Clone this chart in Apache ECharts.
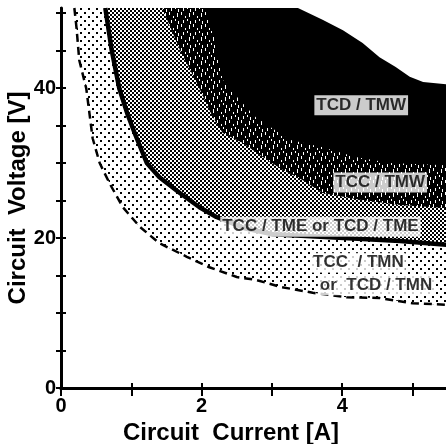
<!DOCTYPE html>
<html>
<head>
<meta charset="utf-8">
<script src="https://cdn.jsdelivr.net/npm/echarts@6/dist/echarts.min.js"></script>
<style>
  html, body { margin: 0; padding: 0; background: #fff; }
  #chart { width: 446px; height: 444px; }
</style>
</head>
<body>
<div id="chart"></div>
<script>
// Boundaries of the operating regions: circuit current [A] against circuit voltage [V].
// Lower edge of the TMN region (dashed curve)
const tmnEdgeI = [0.19, 0.22, 0.26, 0.36, 0.45, 0.55, 0.69, 0.88, 1.12, 1.40, 1.79, 2.11, 2.50, 2.78, 3.11, 3.58, 4.06, 4.53, 5.00, 5.49];
const tmnEdgeV = [50.67, 48.1, 43.7, 39.9, 33.3, 30.0, 27.3, 24.1, 21.5, 19.3, 17.5, 16.1, 14.8, 14.4, 13.5, 12.7, 12.1, 12.0, 11.3, 11.1];
// TMN / TME boundary (thick solid curve)
const tmeEdgeI = [0.63, 0.72, 0.83, 0.95, 1.06, 1.22, 1.40, 1.69, 1.97, 2.21, 2.61, 3.01, 3.82, 4.82, 5.49];
const tmeEdgeV = [50.67, 45.1, 39.9, 36.4, 33.7, 30.0, 28.1, 26.0, 24.1, 22.8, 21.3, 20.5, 20.1, 19.6, 19.1];
// TME / TCC-TMW boundary
const tccTmwEdgeI = [1.44, 1.69, 1.93, 2.16, 2.30, 2.58, 2.87, 3.15, 3.44, 3.72, 4.25, 4.82, 5.49];
const tccTmwEdgeV = [50.67, 45.1, 40.7, 36.1, 34.0, 32.7, 30.8, 29.1, 27.7, 26.0, 25.1, 24.4, 24.0];
// TCC-TMW / TCD-TMW boundary
const tcdTmwEdgeI = [2.04, 2.19, 2.30, 2.54, 2.77, 3.25, 3.72, 4.19, 4.68, 5.49];
const tcdTmwEdgeV = [50.67, 46.4, 41.1, 38.4, 36.1, 33.1, 32.1, 30.8, 30.0, 29.7];
// Upper edge of the TCD / TMW region
const tcdTmwTopI = [3.37, 3.72, 4.01, 4.29, 4.53, 4.76, 4.96, 5.15, 5.49];
const tcdTmwTopV = [50.67, 49.1, 47.7, 46.0, 44.1, 42.8, 41.5, 40.8, 40.5];

const regionNames = ['TCD / TMW', 'TCC / TMW', 'TCC / TME or TCD / TME', 'TCC  / TMN', 'or  TCD / TMN'];
const xTickValues = [0, 1, 2, 3, 4, 5];
const xTickLabels = [0, 2, 4];
const yTickValues = [0, 5, 10, 15, 20, 25, 30, 35, 40, 45, 50];
const yTickLabels = [0, 20, 40];

const xMin = 0, xMax = 5.49, yMin = 0, yMax = 50.67;
const FONT = 'Liberation Sans';

// Small repeating bitmaps used as fills
function tile(w, h, bg, fg, cells) {
  const c = document.createElement('canvas');
  c.width = w; c.height = h;
  const g = c.getContext('2d');
  g.fillStyle = bg; g.fillRect(0, 0, w, h);
  g.fillStyle = fg;
  cells.forEach(([x, y, cw, ch]) => g.fillRect(x, y, cw, ch));
  return { image: c, repeat: 'repeat' };
}
// sparse dots
const dotFill = tile(8, 8, '#fff', '#000', [[0, 0, 2, 2], [4, 4, 2, 2]]);
// halftone grey
const checkerFill = tile(4, 4, '#fff', '#000', [[0, 0, 2, 2], [2, 2, 2, 2]]);
// black with light streaks
const speckFill = tile(12, 12, '#000', '#fff', [
  [1, 0, 1, 3], [5, 4, 1, 2], [9, 1, 1, 4], [3, 8, 1, 3], [7, 7, 1, 2], [10, 9, 1, 3]
]);

const pairs = (I, V) => I.map((x, i) => [x, V[i]]);
// area under a boundary, closed along the top edge on the left
const region = (I, V) => [[xMin, yMax]].concat(pairs(I, V));

function areaSeries(I, V, fill) {
  return {
    type: 'line', data: region(I, V), showSymbol: false, silent: true,
    lineStyle: { width: 0 }, areaStyle: { color: fill, opacity: 1 }
  };
}

const labelPos = [[4.27, 37.7], [4.54, 27.4], [3.69, 21.5], [4.23, 16.7], [4.48, 13.7]];

const axisFont = { fontFamily: FONT, fontWeight: 'bold', color: '#000' };

const option = {
  animation: false,
  backgroundColor: '#fff',
  grid: { left: 61, top: 8, width: 386, height: 380, outerBoundsMode: 'none' },
  xAxis: [{
    type: 'value', min: xMin, max: xMax, position: 'bottom', z: 10,
    name: 'Circuit  Current [A]', nameLocation: 'middle', nameGap: 28,
    nameTextStyle: Object.assign({ fontSize: 24, padding: [0, 46, 0, 0] }, axisFont),
    axisLine: { lineStyle: { color: '#000', width: 3 } },
    axisTick: { inside: true, length: 5, customValues: xTickValues, lineStyle: { color: '#000', width: 2 } },
    axisLabel: Object.assign({ fontSize: 20, margin: 8, customValues: xTickLabels }, axisFont),
    splitLine: { show: false }
  }, {
    type: 'value', min: xMin, max: xMax, position: 'top', z: 10,
    axisLine: { lineStyle: { color: '#000', width: 3 } },
    axisTick: { inside: true, length: 8, customValues: xTickValues, lineStyle: { color: '#000', width: 2 } },
    axisLabel: { show: false }, splitLine: { show: false }
  }],
  yAxis: [{
    type: 'value', min: yMin, max: yMax, position: 'left', z: 10,
    name: 'Circuit  Voltage [V]', nameLocation: 'middle', nameGap: 31, nameMoveOverlap: false,
    nameTextStyle: Object.assign({ fontSize: 24 }, axisFont),
    axisLine: { lineStyle: { color: '#000', width: 3 } },
    axisTick: { inside: true, length: 5, customValues: yTickValues, lineStyle: { color: '#000', width: 2 } },
    axisLabel: Object.assign({ fontSize: 20, margin: 5, customValues: yTickLabels }, axisFont),
    splitLine: { show: false }
  }, {
    type: 'value', min: yMin, max: yMax, position: 'right', z: 10,
    axisLine: { lineStyle: { color: '#000', width: 2 } },
    axisTick: { inside: true, length: 5, customValues: yTickValues, lineStyle: { color: '#000', width: 2 } },
    axisLabel: { show: false }, splitLine: { show: false }
  }],
  series: [
    areaSeries(tcdTmwTopI, tcdTmwTopV, '#000'),
    areaSeries(tcdTmwEdgeI, tcdTmwEdgeV, speckFill),
    areaSeries(tccTmwEdgeI, tccTmwEdgeV, checkerFill),
    areaSeries(tmeEdgeI, tmeEdgeV, dotFill),
    areaSeries(tmnEdgeI, tmnEdgeV, '#fff'),
    {
      type: 'line', data: pairs(tmnEdgeI, tmnEdgeV), showSymbol: false, silent: true,
      lineStyle: { color: '#000', width: 2.5, type: [8, 5] }
    },
    {
      type: 'line', data: pairs(tmeEdgeI, tmeEdgeV), showSymbol: false, silent: true,
      lineStyle: { color: '#000', width: 4.5 }
    },
    {
      type: 'scatter', symbolSize: 1, silent: true, z: 6,
      itemStyle: { color: 'rgba(0,0,0,0)' },
      data: regionNames.map((n, i) => ({ name: n, value: labelPos[i] })),
      label: {
        show: true, position: 'inside', formatter: '{b}',
        fontFamily: FONT, fontWeight: 'bold', fontSize: 17, color: '#000',
        backgroundColor: '#fff', padding: [2, 2, 1, 2]
      }
    }
  ]
};

const chart = echarts.init(document.getElementById('chart'), null, { renderer: 'canvas' });
chart.setOption(option);
</script>
</body>
</html>
